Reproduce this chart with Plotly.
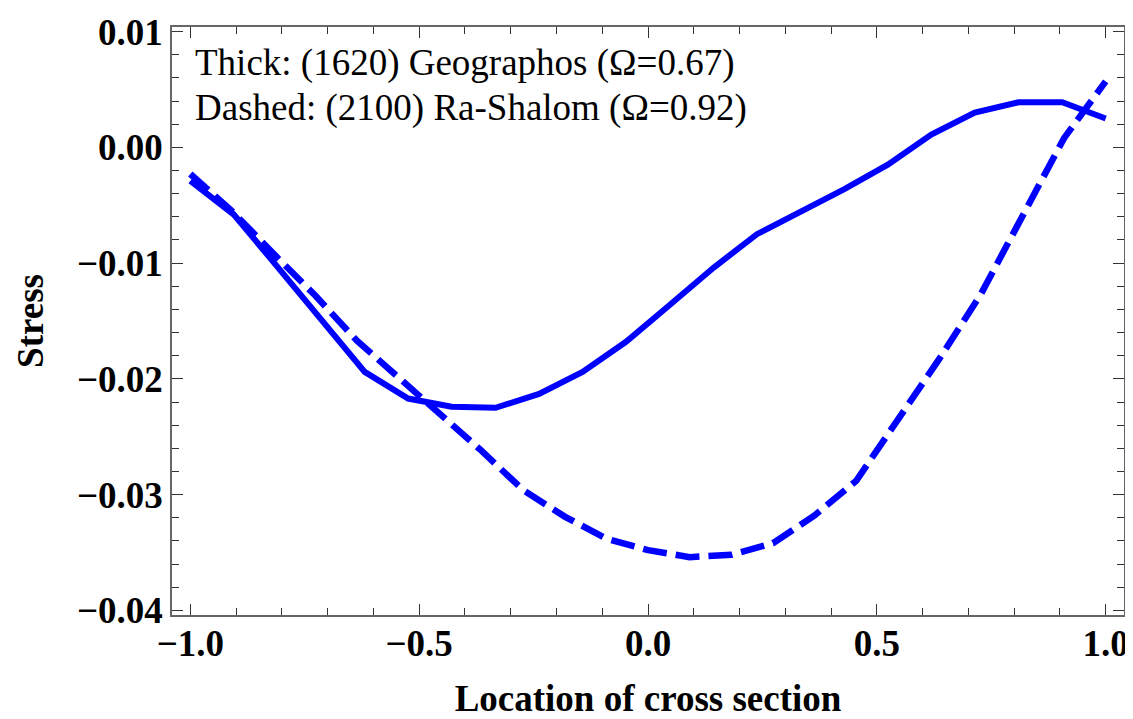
import plotly.graph_objects as go

# Thick curve: (1620) Geographos
x_thick = [-1.0, -0.905, -0.810, -0.714, -0.619, -0.524, -0.429, -0.333, -0.238, -0.143, -0.048,
           0.048, 0.143, 0.238, 0.333, 0.429, 0.524, 0.619, 0.714, 0.810, 0.905, 1.0]
y_thick = [-0.0029, -0.0058, -0.0103, -0.0149, -0.0194, -0.0217, -0.0224, -0.0225, -0.0213, -0.0194, -0.0168,
           -0.0136, -0.0104, -0.0075, -0.0056, -0.0036, -0.0015, 0.0011, 0.0030, 0.0039, 0.0039, 0.0025]

# Dashed curve: (2100) Ra-Shalom
x_dash = [-1.0, -0.909, -0.818, -0.727, -0.636, -0.545, -0.455, -0.364, -0.273, -0.182, -0.091, 0.0,
          0.091, 0.182, 0.273, 0.364, 0.455, 0.545, 0.636, 0.727, 0.818, 0.909, 1.0]
y_dash = [-0.0023, -0.0055, -0.0092, -0.0128, -0.0167, -0.0199, -0.0230, -0.0262, -0.0296, -0.0319, -0.0338, -0.0348,
          -0.0354, -0.0352, -0.0342, -0.0318, -0.0288, -0.0236, -0.0183, -0.0127, -0.0060, 0.0008, 0.0057]

x_ticks = [-1.0, -0.5, 0.0, 0.5, 1.0]
y_ticks = [0.01, 0.0, -0.01, -0.02, -0.03, -0.04]

label_thick = "Thick: (1620) Geographos (Ω=0.67)"
label_dash = "Dashed: (2100) Ra-Shalom (Ω=0.92)"

fig = go.Figure()
fig.add_trace(go.Scatter(x=x_thick, y=y_thick, mode="lines",
                         line=dict(color="#0000ff", width=6), showlegend=False))
fig.add_trace(go.Scatter(x=x_dash, y=y_dash, mode="lines",
                         line=dict(color="#0000ff", width=6.5, dash="24px,9px"), showlegend=False))

serif = "Liberation Serif, Times New Roman, serif"
axis_common = dict(showline=True, linecolor="#666666", linewidth=1.5, mirror="allticks",
                   ticks="inside", ticklen=11, tickwidth=1.2, tickcolor="#333333",
                   showgrid=False, zeroline=False, automargin=False,
                   tickfont=dict(family=serif, size=37, color="black", weight="bold"))

fig.update_xaxes(range=[-1.04, 1.04], tickvals=x_ticks, tickformat=".1f",
                 ticklabelstandoff=-5,
                 minor=dict(dtick=0.1, ticks="inside", ticklen=7, tickwidth=1, tickcolor="#333333"),
                 title=dict(text="<b>Location of cross section</b>", standoff=27,
                            font=dict(family=serif, size=37, color="black")),
                 **axis_common)
fig.update_yaxes(range=[-0.0404, 0.0104], tickvals=y_ticks, tickformat=".2f",
                 ticklabelstandoff=0,
                 minor=dict(dtick=0.002, ticks="inside", ticklen=7, tickwidth=1, tickcolor="#333333"),
                 title=dict(text="<b>Stress</b>", standoff=22,
                            font=dict(family=serif, size=37, color="black")),
                 **axis_common)

fig.add_annotation(x=-0.994, y=0.00732, xref="x", yref="y", text=label_thick, showarrow=False,
                   xanchor="left", yanchor="middle", font=dict(family=serif, size=37, color="black"))
fig.add_annotation(x=-0.994, y=0.00343, xref="x", yref="y", text=label_dash, showarrow=False,
                   xanchor="left", yanchor="middle", font=dict(family=serif, size=37, color="black"))

# page body has an 8px default margin; size the figure so it fits the 1133x719 window
fig.update_layout(width=1125, height=711, margin=dict(l=164, r=9, t=19, b=104),
                  plot_bgcolor="white", paper_bgcolor="white")

fig.write_html("out.html")
